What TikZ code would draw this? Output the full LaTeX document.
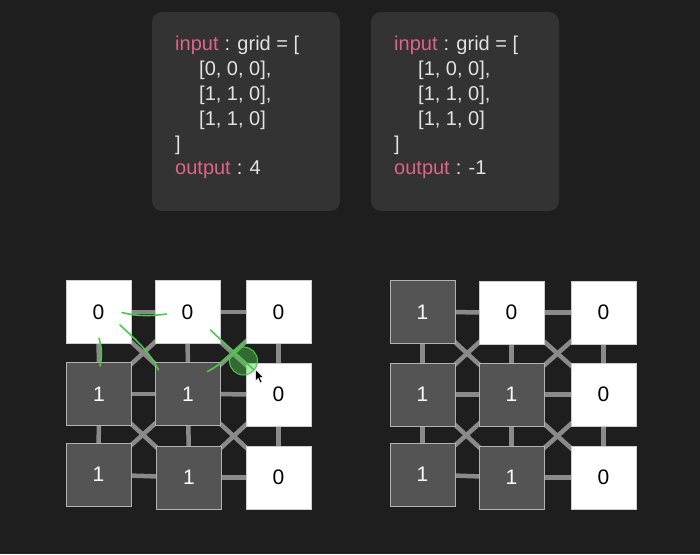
\documentclass[tikz,border=0pt]{standalone}
\usepackage{fontspec}
\setmainfont{Liberation Sans}
\pgfdeclarelayer{bg}
\pgfsetlayers{bg,main}
\definecolor{bgc}{HTML}{1E1E1E}
\definecolor{boxc}{HTML}{333333}
\definecolor{pinkc}{HTML}{E0648A}
\definecolor{txtc}{HTML}{E2E2E2}
\definecolor{darkcell}{HTML}{545454}
\definecolor{linkc}{HTML}{8A8A8A}
\definecolor{greenc}{HTML}{4CC94C}
\tikzset{
  codebox/.style={fill=boxc, rounded corners=10pt, draw=none},
  code/.style={anchor=base west, inner sep=0pt, text=txtc, font=\fontsize{20}{24}\selectfont},
  kw/.style={code, text=pinkc},
  wcell/.style={draw=white!80!black, line width=0.6pt, fill=white, minimum width=65pt, minimum height=63pt, inner sep=0pt, text=black, font=\fontsize{21}{24}\selectfont},
  dcell/.style={draw=white!70!black, line width=0.7pt, fill=darkcell, minimum width=65pt, minimum height=63pt, inner sep=0pt, text=white, font=\fontsize{21}{24}\selectfont},
  link/.style={draw=linkc, line width=4.5pt},
  greenmark/.style={draw=greenc, line width=1.6pt, line cap=round},
}
\begin{document}
\begin{tikzpicture}[x=1pt,y=-1pt]
\useasboundingbox (0,0) rectangle (700,554);
\begin{pgfonlayer}{bg}
\fill[bgc] (0,0) rectangle (700,554);
\end{pgfonlayer}
% code boxes
\path[codebox] (152,12) rectangle (340,211);
\path[codebox] (371,12) rectangle (559,211);
% left code
\node[kw] (l1a) at (175,50) {input};
\node[code] (l1b) at (l1a.base east) {\ : grid = [};
\node[code] (l2) at (199,75.5) {[0, 0, 0],};
\node[code] (l3) at (199,100.5) {[1, 1, 0],};
\node[code] (l4) at (199,125.5) {[1, 1, 0]};
\node[code] (l5) at (175,150.5) {]};
\node[kw] (l6a) at (175,174) {output};
\node[code] (l6b) at (l6a.base east) {\ : 4};
% right code
\node[kw] (r1a) at (394,50) {input};
\node[code] (r1b) at (r1a.base east) {\ : grid = [};
\node[code] (r2) at (418,75.5) {[1, 0, 0],};
\node[code] (r3) at (418,100.5) {[1, 1, 0],};
\node[code] (r4) at (418,125.5) {[1, 1, 0]};
\node[code] (r5) at (394,150.5) {]};
\node[kw] (r6a) at (394,174) {output};
\node[code] (r6b) at (r6a.base east) {\ : -1};
% left grid
\node[wcell] (a00) at (98.5,312) {0};
\node[wcell] (a01) at (187.5,312) {0};
\node[wcell] (a02) at (278.5,312) {0};
\node[dcell] (a10) at (99,394) {1};
\node[dcell] (a11) at (188,394) {1};
\node[wcell] (a12) at (278.5,394.5) {0};
\node[dcell] (a20) at (98.5,474.5) {1};
\node[dcell] (a21) at (189,477.5) {1};
\node[wcell] (a22) at (278.5,477.5) {0};
% right grid
\node[dcell] (b00) at (422.5,312) {1};
\node[wcell] (b01) at (511.5,312.5) {0};
\node[wcell] (b02) at (603.5,312.5) {0};
\node[dcell] (b10) at (422.5,394.5) {1};
\node[dcell] (b11) at (511.5,394.5) {1};
\node[wcell] (b12) at (603.5,394.5) {0};
\node[dcell] (b20) at (422.5,474.5) {1};
\node[dcell] (b21) at (511.5,477.5) {1};
\node[wcell] (b22) at (603.5,477.5) {0};
% links
\begin{pgfonlayer}{bg}
\foreach \g in {a,b}{
  \foreach \r in {0,1,2}{
    \draw[link] (\g\r0.center) -- (\g\r1.center);
    \draw[link] (\g\r1.center) -- (\g\r2.center);
  }
  \foreach \c in {0,1,2}{
    \draw[link] (\g0\c.center) -- (\g1\c.center);
    \draw[link] (\g1\c.center) -- (\g2\c.center);
  }
  \foreach \r/\rr in {0/1,1/2}{
    \foreach \c/\cc in {0/1,1/2}{
      \draw[link] (\g\r\c.center) -- (\g\rr\cc.center);
      \draw[link] (\g\r\cc.center) -- (\g\rr\c.center);
    }
  }
}
\end{pgfonlayer}
% green annotations
\coordinate (g1s) at (122,312.5);
\coordinate (g1e) at (166.5,314);
\draw[greenmark] (g1s) .. controls (137,316.5) and (152,316) .. (g1e);
\coordinate (g2s) at (99,338.5);
\coordinate (g2e) at (100,366);
\draw[greenmark] (g2s) .. controls (102,347) and (102,357) .. (g2e);
\coordinate (g3s) at (120,325);
\coordinate (g3e) at (158.5,370);
\draw[greenmark] (g3s) .. controls (133,337) and (150,352) .. (g3e);
\coordinate (g4s) at (210.5,330);
\coordinate (g4e) at (253.5,369.5);
\draw[greenmark] (g4s) .. controls (224,343) and (240,357) .. (g4e);
\coordinate (g5s) at (207.5,371.5);
\coordinate (g5e) at (245.5,341);
\draw[greenmark] (g5s) .. controls (220,365) and (236,352) .. (g5e);
\node[circle, minimum size=28pt, inner sep=0pt, fill=greenc, fill opacity=0.45, draw=greenc, line width=1pt] (gc) at (243.5,361) {};
% cursor
\coordinate (cur) at (255.5,369.5);
\fill[black, draw=white, line width=0.5pt] (cur) -- ++(0,11.5) -- ++(2.7,-2.6) -- ++(2.2,4.6) -- ++(1.7,-0.8) -- ++(-2.1,-4.5) -- ++(3.8,0) -- cycle;
\end{tikzpicture}
\end{document}
